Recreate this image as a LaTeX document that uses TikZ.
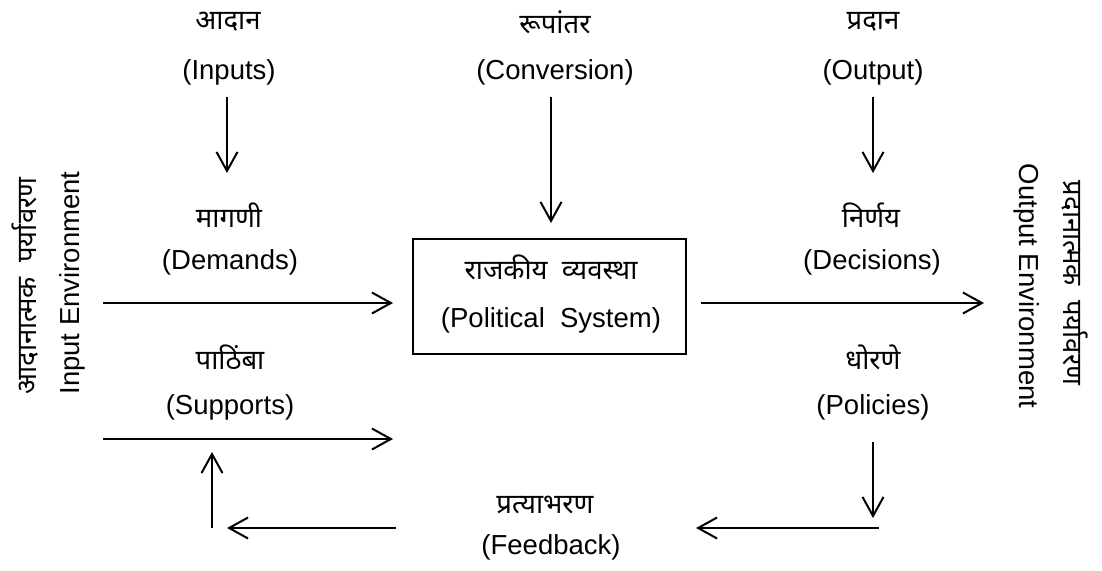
\documentclass[tikz,border=0pt]{standalone}
\usepackage{fontspec}
\setmainfont{Liberation Sans}
\newfontfamily\deva[Script=Devanagari]{Noto Sans}
\usetikzlibrary{arrows.meta}

\begin{document}
\begin{tikzpicture}[x=1pt, y=-1pt,
  flow/.style={line width=2pt, -{Straight Barb[length=19pt,width=21pt,line width=2pt]}},
  lat/.style={font=\fontsize{27.5}{30}\selectfont, inner sep=0pt},
  mar/.style={font=\fontsize{27.5}{32}\deva, inner sep=0pt}]
  \useasboundingbox (0,0) rectangle (1102,570);

  \node[mar] (adanM) at (228, 22) {आदान};
  \node[lat] (inputs) at (229, 72) {(Inputs)};
  \node[mar] (rupM) at (555, 22) {रूपांतर};
  \node[lat] (conversion) at (555, 72) {(Conversion)};
  \node[mar] (pradM) at (873, 22) {प्रदान};
  \node[lat] (output) at (873, 72) {(Output)};

  \node[mar] (magM) at (229, 215) {मागणी};
  \node[lat] (demands) at (230, 262) {(Demands)};
  \node[mar] (nirM) at (871, 215) {निर्णय};
  \node[lat] (decisions) at (872, 262) {(Decisions)};
  \node[mar] (pathM) at (230, 357) {पाठिंबा};
  \node[lat] (supports) at (230, 407) {(Supports)};
  \node[mar] (dhorM) at (873, 357) {धोरणे};
  \node[lat] (policies) at (873, 407) {(Policies)};
  \node[mar] (pratM) at (545, 505) {प्रत्याभरण};
  \node[lat] (feedback) at (551, 547) {(Feedback)};

  \node[draw, line width=2pt, minimum width=273pt, minimum height=115pt] (polsys) at (549.5, 296.5) {};
  \node[mar] (polsysM) at (551, 267) {राजकीय~ व्यवस्था};
  \node[lat] (polsysE) at (551, 320) {(Political~ System)};

  \node[lat, rotate=90] (inEnv) at (72, 283) {Input Environment};
  \node[mar, rotate=90] (inEnvM) at (25, 286) {आदानात्मक~ पर्यावरण};
  \node[lat, rotate=-90] (outEnv) at (1027, 286) {Output Environment};
  \node[mar, rotate=-90] (outEnvM) at (1075, 283) {प्रदानात्मक~ पर्यावरण};

  \coordinate (a1) at (227, 97);  \coordinate (a2) at (227, 173);
  \coordinate (b1) at (551, 97);  \coordinate (b2) at (551, 223);
  \coordinate (c1) at (873, 97);  \coordinate (c2) at (873, 173);
  \coordinate (d1) at (103, 303); \coordinate (d2) at (393, 303);
  \coordinate (e1) at (103, 439); \coordinate (e2) at (393, 439);
  \coordinate (f1) at (701, 303); \coordinate (f2) at (984, 303);
  \coordinate (g1) at (873, 442); \coordinate (g2) at (873, 518);
  \coordinate (h1) at (879, 528); \coordinate (h2) at (696, 528);
  \coordinate (k1) at (396, 528); \coordinate (k2) at (227, 528);
  \coordinate (m1) at (212, 528); \coordinate (m2) at (212, 452);

  \draw[flow] (a1) -- (a2);
  \draw[flow] (b1) -- (b2);
  \draw[flow] (c1) -- (c2);
  \draw[flow] (d1) -- (d2);
  \draw[flow] (e1) -- (e2);
  \draw[flow] (f1) -- (f2);
  \draw[flow] (g1) -- (g2);
  \draw[flow] (h1) -- (h2);
  \draw[flow] (k1) -- (k2);
  \draw[flow] (m1) -- (m2);
\end{tikzpicture}
\end{document}
